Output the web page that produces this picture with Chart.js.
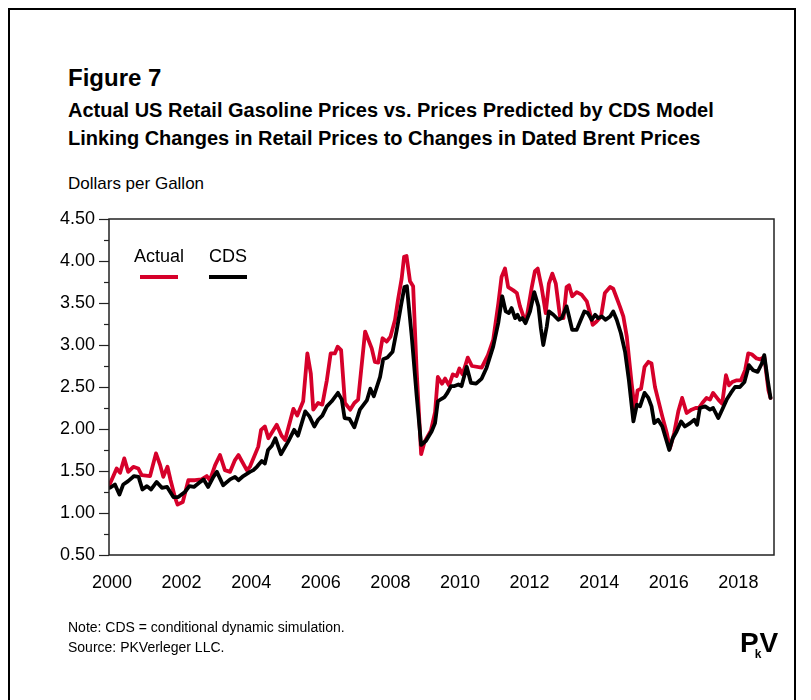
<!DOCTYPE html>
<html>
<head>
<meta charset="utf-8">
<script src="https://cdn.jsdelivr.net/npm/chart.js@4"></script>
<style>
  html, body { margin: 0; padding: 0; background: #fff; }
  body { width: 811px; height: 700px; position: relative; overflow: hidden; font-family: "Liberation Sans", Arial, sans-serif; color: #000; }
  #frame { position: absolute; left: 8px; top: 8px; width: 784px; height: 720px; border: 2px solid #000; }
  .txt { position: absolute; white-space: nowrap; }
  #fig { left: 68px; top: 64px; font-size: 24px; font-weight: bold; }
  #sub1 { left: 68px; top: 99px; font-size: 20px; font-weight: bold; }
  #sub2 { left: 68px; top: 127px; font-size: 20px; font-weight: bold; }
  #unit { left: 68px; top: 174px; font-size: 17px; }
  #note { left: 68px; top: 617px; font-size: 14px; line-height: 20px; }
  #logo { left: 740px; top: 628px; font-size: 28px; font-weight: bold; letter-spacing: -4px; line-height: 30px; }
  #logo sub { font-size: 12px; letter-spacing: -2px; vertical-align: -6px; }
  canvas { position: absolute; left: 0; top: 0; }
</style>
</head>
<body>
<div id="frame"></div>
<div class="txt" id="fig">Figure 7</div>
<div class="txt" id="sub1">Actual US Retail Gasoline Prices vs. Prices Predicted by CDS Model</div>
<div class="txt" id="sub2">Linking Changes in Retail Prices to Changes in Dated Brent Prices</div>
<div class="txt" id="unit">Dollars per Gallon</div>
<canvas id="chart" width="811" height="700"></canvas>
<div class="txt" id="note">Note: CDS = conditional dynamic simulation.<br>Source: PKVerleger LLC.</div>
<div class="txt" id="logo">P<sub>k</sub>V</div>
<script>
// x positions are decimal years
const actualYears = [2000.01, 2000.22, 2000.32, 2000.44, 2000.55, 2000.70, 2000.84, 2000.94, 2001.18, 2001.35,
  2001.47, 2001.56, 2001.68, 2001.77, 2001.90, 2001.97, 2002.12, 2002.28, 2002.47, 2002.66,
  2002.81, 2002.90, 2003.05, 2003.19, 2003.33, 2003.48, 2003.62, 2003.72, 2003.96, 2004.05,
  2004.29, 2004.37, 2004.48, 2004.58, 2004.82, 2004.96, 2005.06, 2005.30, 2005.41, 2005.58,
  2005.70, 2005.80, 2005.87, 2006.01, 2006.13, 2006.26, 2006.37, 2006.49, 2006.57, 2006.67,
  2006.78, 2006.93, 2007.05, 2007.16, 2007.36, 2007.55, 2007.64, 2007.74, 2007.86, 2007.98,
  2008.09, 2008.22, 2008.31, 2008.41, 2008.48, 2008.55, 2008.65, 2008.74, 2008.84, 2008.97,
  2009.07, 2009.25, 2009.37, 2009.45, 2009.57, 2009.66, 2009.77, 2009.88, 2009.99, 2010.07,
  2010.16, 2010.31, 2010.43, 2010.71, 2010.89, 2011.04, 2011.19, 2011.28, 2011.38, 2011.47,
  2011.62, 2011.72, 2011.81, 2011.91, 2012.00, 2012.15, 2012.24, 2012.32, 2012.43, 2012.55,
  2012.64, 2012.74, 2012.84, 2012.96, 2013.06, 2013.15, 2013.22, 2013.31, 2013.44, 2013.58,
  2013.73, 2013.82, 2013.90, 2014.01, 2014.14, 2014.25, 2014.40, 2014.49, 2014.59, 2014.68,
  2014.78, 2014.88, 2014.97, 2015.02, 2015.11, 2015.19, 2015.29, 2015.39, 2015.50, 2015.59,
  2015.69, 2015.78, 2015.90, 2016.03, 2016.12, 2016.24, 2016.36, 2016.47, 2016.60, 2016.74,
  2016.86, 2016.95, 2017.05, 2017.17, 2017.27, 2017.36, 2017.51, 2017.62, 2017.73, 2017.82,
  2017.91, 2018.04, 2018.16, 2018.28, 2018.37, 2018.47, 2018.61, 2018.71, 2018.83, 2018.95,
  2019.01];
const actualPrices = [1.33, 1.53, 1.48, 1.65, 1.49, 1.55, 1.53, 1.45, 1.44, 1.71,
  1.57, 1.43, 1.55, 1.39, 1.18, 1.10, 1.13, 1.39, 1.39, 1.40,
  1.44, 1.39, 1.57, 1.69, 1.51, 1.49, 1.63, 1.69, 1.51, 1.55,
  1.79, 1.99, 2.03, 1.89, 2.05, 1.92, 1.87, 2.24, 2.16, 2.33,
  2.90, 2.66, 2.23, 2.31, 2.29, 2.58, 2.90, 2.90, 2.98, 2.94,
  2.31, 2.23, 2.31, 2.35, 3.16, 2.96, 2.80, 2.79, 3.08, 3.04,
  3.10, 3.30, 3.55, 3.79, 4.05, 4.06, 3.76, 3.70, 2.70, 1.70,
  1.85, 1.98, 2.20, 2.62, 2.54, 2.60, 2.52, 2.65, 2.63, 2.72,
  2.65, 2.85, 2.75, 2.73, 2.88, 3.06, 3.50, 3.81, 3.91, 3.69,
  3.65, 3.62, 3.46, 3.34, 3.32, 3.69, 3.88, 3.91, 3.69, 3.38,
  3.73, 3.85, 3.73, 3.34, 3.32, 3.69, 3.71, 3.58, 3.63, 3.60,
  3.52, 3.38, 3.24, 3.28, 3.34, 3.62, 3.69, 3.67, 3.56, 3.46,
  3.34, 3.10, 2.74, 2.54, 2.23, 2.46, 2.48, 2.74, 2.80, 2.78,
  2.50, 2.35, 2.15, 1.95, 1.77, 1.95, 2.21, 2.37, 2.19, 2.23,
  2.25, 2.25, 2.31, 2.37, 2.35, 2.43, 2.35, 2.30, 2.64, 2.52,
  2.56, 2.58, 2.58, 2.70, 2.90, 2.89, 2.84, 2.83, 2.86, 2.46,
  2.37];

const cdsYears = [2000.03, 2000.17, 2000.30, 2000.41, 2000.55, 2000.72, 2000.85, 2000.96, 2001.09, 2001.21,
  2001.37, 2001.52, 2001.67, 2001.85, 2001.99, 2002.18, 2002.31, 2002.44, 2002.59, 2002.72,
  2002.85, 2003.00, 2003.10, 2003.28, 2003.48, 2003.62, 2003.72, 2003.86, 2004.05, 2004.15,
  2004.25, 2004.39, 2004.48, 2004.57, 2004.68, 2004.78, 2004.94, 2005.15, 2005.32, 2005.43,
  2005.64, 2005.76, 2005.90, 2006.01, 2006.13, 2006.26, 2006.40, 2006.58, 2006.69, 2006.77,
  2006.91, 2007.05, 2007.21, 2007.41, 2007.51, 2007.61, 2007.79, 2007.88, 2008.00, 2008.15,
  2008.27, 2008.40, 2008.49, 2008.56, 2008.70, 2008.84, 2008.97, 2009.11, 2009.27, 2009.37,
  2009.45, 2009.56, 2009.64, 2009.71, 2009.83, 2009.91, 2010.04, 2010.13, 2010.28, 2010.40,
  2010.55, 2010.71, 2010.85, 2011.04, 2011.19, 2011.30, 2011.40, 2011.49, 2011.57, 2011.67,
  2011.74, 2011.81, 2011.88, 2011.97, 2012.10, 2012.22, 2012.34, 2012.41, 2012.48, 2012.58,
  2012.64, 2012.77, 2012.91, 2013.01, 2013.15, 2013.22, 2013.31, 2013.44, 2013.56, 2013.66,
  2013.76, 2013.87, 2013.97, 2014.06, 2014.16, 2014.27, 2014.40, 2014.49, 2014.59, 2014.71,
  2014.83, 2014.94, 2015.07, 2015.17, 2015.26, 2015.39, 2015.50, 2015.59, 2015.67, 2015.78,
  2015.90, 2016.00, 2016.10, 2016.20, 2016.31, 2016.44, 2016.55, 2016.70, 2016.82, 2016.90,
  2016.98, 2017.13, 2017.27, 2017.36, 2017.51, 2017.62, 2017.75, 2017.87, 2017.99, 2018.13,
  2018.26, 2018.39, 2018.51, 2018.64, 2018.76, 2018.83, 2018.93, 2019.01];
const cdsPrices = [1.30, 1.34, 1.22, 1.34, 1.38, 1.44, 1.43, 1.28, 1.32, 1.28,
  1.37, 1.30, 1.31, 1.19, 1.19, 1.25, 1.32, 1.31, 1.36, 1.40,
  1.31, 1.43, 1.49, 1.33, 1.40, 1.43, 1.39, 1.44, 1.49, 1.51,
  1.55, 1.62, 1.59, 1.75, 1.80, 1.89, 1.70, 1.85, 1.99, 1.92,
  2.21, 2.15, 2.03, 2.11, 2.16, 2.27, 2.33, 2.43, 2.35, 2.13,
  2.12, 2.02, 2.23, 2.34, 2.48, 2.39, 2.62, 2.83, 2.85, 2.92,
  3.18, 3.49, 3.69, 3.70, 3.10, 2.40, 1.81, 1.86, 1.97, 2.07,
  2.33, 2.36, 2.38, 2.42, 2.51, 2.51, 2.53, 2.51, 2.74, 2.55,
  2.54, 2.60, 2.73, 2.98, 3.27, 3.58, 3.40, 3.38, 3.44, 3.32,
  3.36, 3.30, 3.32, 3.26, 3.40, 3.63, 3.46, 3.20, 3.00, 3.22,
  3.40, 3.36, 3.30, 3.32, 3.46, 3.34, 3.18, 3.18, 3.30, 3.40,
  3.38, 3.30, 3.36, 3.32, 3.34, 3.30, 3.34, 3.40, 3.30, 3.14,
  2.92, 2.58, 2.09, 2.29, 2.27, 2.43, 2.37, 2.27, 2.07, 2.11,
  2.03, 1.89, 1.75, 1.89, 1.97, 2.09, 2.03, 2.07, 2.11, 2.05,
  2.25, 2.27, 2.23, 2.25, 2.13, 2.23, 2.35, 2.43, 2.50, 2.50,
  2.56, 2.76, 2.70, 2.68, 2.78, 2.88, 2.58, 2.37];

const xTickYears = [2000, 2002, 2004, 2006, 2008, 2010, 2012, 2014, 2016, 2018];
const yMin = 0.5, yMax = 4.5, yStep = 0.5, yMinorStep = 0.25;

const RED = '#d6002a';
const font = '"Liberation Sans", Arial, sans-serif';

const toPoints = (xs, ys) => xs.map((x, i) => ({ x: x, y: ys[i] }));

// box, minor ticks and the in-plot legend
const framePlugin = {
    id: 'frame',
    afterDraw(chart) {
        const ctx = chart.ctx;
        const a = chart.chartArea;
        const yScale = chart.scales.y;
        ctx.save();
        ctx.strokeStyle = '#222';
        ctx.lineWidth = 1.5;
        ctx.strokeRect(a.left, a.top, a.right - a.left, a.bottom - a.top);

        // y tick marks: long on the labelled values, short in between
        ctx.lineWidth = 1.2;
        for (let v = yMin; v <= yMax + 1e-9; v += yMinorStep) {
            const y = Math.round(yScale.getPixelForValue(v)) + 0.5;
            const major = Math.abs(v / yStep - Math.round(v / yStep)) < 1e-6;
            ctx.beginPath();
            ctx.moveTo(a.left - (major ? 10 : 5), y);
            ctx.lineTo(a.left, y);
            ctx.stroke();
        }

        // legend: label with a short line under it
        ctx.font = '18px ' + font;
        ctx.textAlign = 'center';
        ctx.textBaseline = 'alphabetic';
        const items = [
            { ds: chart.data.datasets[0], cx: a.left + 50 },
            { ds: chart.data.datasets[1], cx: a.left + 119 }
        ];
        items.forEach(it => {
            ctx.fillStyle = '#000';
            ctx.fillText(it.ds.label, it.cx, a.top + 43);
            ctx.strokeStyle = it.ds.borderColor;
            ctx.lineWidth = 4;
            ctx.beginPath();
            ctx.moveTo(it.cx - 19, a.top + 58);
            ctx.lineTo(it.cx + 19, a.top + 58);
            ctx.stroke();
        });
        ctx.restore();
    }
};

new Chart(document.getElementById('chart'), {
    type: 'line',
    data: {
        datasets: [
            {
                label: 'Actual',
                data: toPoints(actualYears, actualPrices),
                borderColor: RED,
                borderWidth: 3.8,
                pointRadius: 0,
                tension: 0,
                order: 2
            },
            {
                label: 'CDS',
                data: toPoints(cdsYears, cdsPrices),
                borderColor: '#000',
                borderWidth: 3.8,
                pointRadius: 0,
                tension: 0,
                order: 1
            }
        ]
    },
    options: {
        responsive: false,
        animation: false,
        layout: { padding: { left: 59, top: 219, right: 37, bottom: 105 } },
        plugins: { legend: { display: false }, tooltip: { enabled: false } },
        elements: { line: { borderJoinStyle: 'round', borderCapStyle: 'round' } },
        scales: {
            x: {
                type: 'linear',
                min: 2000,
                max: 2019.11,
                afterBuildTicks: (scale) => { scale.ticks = xTickYears.map(v => ({ value: v })); },
                afterFit: (scale) => { scale.height = 40; },
                grid: { display: false, drawTicks: false },
                border: { display: false },
                ticks: {
                    color: '#000',
                    font: { family: font, size: 18 },
                    padding: 17,
                    labelOffset: 3,
                    maxRotation: 0,
                    autoSkip: false,
                    callback: (v) => String(v)
                }
            },
            y: {
                min: yMin,
                max: yMax,
                afterFit: (scale) => { scale.width = 50; },
                grid: { display: false, drawTicks: false },
                border: { display: false },
                ticks: {
                    stepSize: yStep,
                    color: '#000',
                    font: { family: font, size: 18 },
                    padding: 14,
                    callback: (v) => v.toFixed(2)
                }
            }
        }
    },
    plugins: [framePlugin]
});
</script>
</body>
</html>
